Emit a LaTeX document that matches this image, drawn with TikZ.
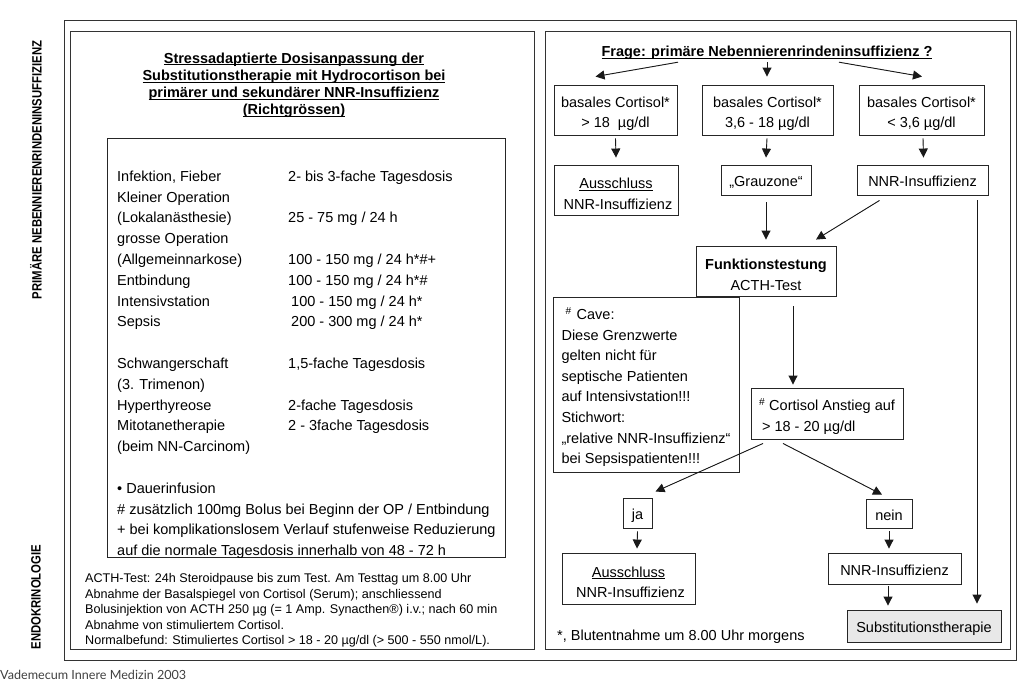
\documentclass[tikz,border=0pt]{standalone}
\usepackage{fontspec}
\setmainfont{Liberation Sans}
\newfontfamily\vadefont{Lato}
\usetikzlibrary{arrows.meta,calc,positioning}
\newcommand{\ulin}[1]{\underline{\smash{#1}\vphantom{A}}}
\newcommand{\hsup}{\textsuperscript{\#}}
\newcommand{\narrow}[1]{\scalebox{0.84}[1]{#1}}
\newcommand{\tup}{\rule{0pt}{18pt}}

\begin{document}
\begin{tikzpicture}[
  x=1pt, y=-1pt,
  >={Triangle[length=9pt,width=9pt]},
  panel/.style={draw=black!80, line width=1pt},
  box/.style={draw=black!85, line width=0.9pt, align=center, inner sep=0pt,
    font=\fontsize{14.5}{20.6}\selectfont},
  single/.style={text height=13.5pt, text depth=0.5pt},
  flow/.style={->, line width=0.9pt, draw=black!90, fill=black!90},
  txt/.style={inner sep=0pt, font=\fontsize{14.5}{20.6}\selectfont},
  note/.style={inner sep=0pt, align=left, font=\fontsize{12.6}{15.6}\selectfont},
  side/.style={inner sep=0pt, rotate=90, font=\bfseries\fontsize{13.5}{15}\selectfont}
]
  \useasboundingbox (0,0) rectangle (1023,686);

  \draw[panel] (64,20) rectangle (1016,660);
  \draw[panel] (70,31) rectangle (534,649);
  \draw[panel] (545,31) rectangle (1010,649);

  \node[side] (primaer) at (36,170) {\narrow{PRIMÄRE NEBENNIERENRINDENINSUFFIZIENZ}};
  \node[side] (endo) at (36,597) {\narrow{ENDOKRINOLOGIE}};
  \node[inner sep=0pt, anchor=west, text=black!75,
    font=\vadefont\fontsize{12.6}{15}\selectfont] (quelle) at (0,675)
    {Vademecum Innere Medizin 2003};

  \begin{scope}
    \node[txt, align=center, font=\bfseries\fontsize{14.5}{17.3}\selectfont] (titel) at (294,85)
      {\ulin{Stressadaptierte Dosisanpassung der}\\
       \ulin{Substitutionstherapie mit Hydrocortison bei}\\
       \ulin{primärer und sekundärer NNR-Insuffizienz}\\
       \ulin{(Richtgrössen)}};
    \node[box, minimum width=398pt, minimum height=419pt] (dosis) at (306,347.5) {};
    \node[txt, anchor=north west, font=\fontsize{14.5}{20.8}\selectfont] (tabelle) at (117,166.6)
      {\begin{tabular}[t]{@{}p{171pt}@{}l@{}}
        Infektion, Fieber & 2- bis 3-fache Tagesdosis\\
        Kleiner Operation & \\
        (Lokalanästhesie) & 25 - 75 mg / 24 h\\
        grosse Operation & \\
        (Allgemeinnarkose) & 100 - 150 mg / 24 h*\#+\\
        Entbindung & 100 - 150 mg / 24 h*\#\\
        Intensivstation & \hspace{3pt}100 - 150 mg / 24 h*\\
        Sepsis & \hspace{3pt}200 - 300 mg / 24 h*\\
        & \\
        Schwangerschaft & 1,5-fache Tagesdosis\\
        (3. Trimenon) & \\
        Hyperthyreose & 2-fache Tagesdosis\\
        Mitotanetherapie & 2 - 3fache Tagesdosis\\
        (beim NN-Carcinom) & \\
        & \\
        \multicolumn{2}{@{}l@{}}{\textbullet{} Dauerinfusion}\\
        \multicolumn{2}{@{}l@{}}{\# zusätzlich 100mg Bolus bei Beginn der OP / Entbindung}\\
        \multicolumn{2}{@{}l@{}}{+ bei komplikationslosem Verlauf stufenweise Reduzierung}\\
        \multicolumn{2}{@{}l@{}}{auf die normale Tagesdosis innerhalb von 48 - 72 h}
      \end{tabular}};
    \node[note, anchor=north west] (acth) at (85,573.2)
      {ACTH-Test: 24h Steroidpause bis zum Test. Am Testtag um 8.00 Uhr\\
       Abnahme der Basalspiegel von Cortisol (Serum); anschliessend\\
       Bolusinjektion von ACTH 250 µg (= 1 Amp. Synacthen®) i.v.; nach 60 min\\
       Abnahme von stimuliertem Cortisol.\\
       Normalbefund: Stimuliertes Cortisol > 18 - 20 µg/dl (> 500 - 550 nmol/L).};
  \end{scope}

  \begin{scope}
    \node[txt, font=\bfseries\fontsize{14.5}{17}\selectfont] (frage) at (767,53)
      {\ulin{Frage: primäre Nebennierenrindeninsuffizienz ?}};

    \node[box, minimum width=123pt, minimum height=50pt] (b1) at (615.5,110)
      {\tup basales Cortisol*\\> 18~~µg/dl};
    \node[box, minimum width=131pt, minimum height=50pt] (b2) at (767.5,110)
      {\tup basales Cortisol*\\3,6 - 18 µg/dl};
    \node[box, minimum width=125pt, minimum height=50pt] (b3) at (921.5,110)
      {\tup basales Cortisol*\\< 3,6 µg/dl};

    \node[box, minimum width=124pt, minimum height=50pt] (aus1) at (616,190)
      {\tup\underline{Ausschluss}\\\hspace{4pt}NNR-Insuffizienz};
    \node[box, single, minimum width=90pt, minimum height=30pt] (grau) at (766,180) {„Grauzone“};
    \node[box, single, minimum width=131pt, minimum height=30pt] (nnr1) at (922.5,180) {NNR-Insuffizienz};

    \node[box, minimum width=140pt, minimum height=50pt] (funk) at (766,271)
      {\tup\textbf{Funktionstestung}\\ACTH-Test};
    \node[box, minimum width=186pt, minimum height=175pt, align=left] (cave) at (646,384.5)
      {\rule{0pt}{17pt}\hspace{4pt}\hsup\hspace{5pt}Cave:\\
       Diese Grenzwerte\\
       gelten nicht für\\
       septische Patienten\\
       auf Intensivstation!!!\\
       Stichwort:\\
       „relative NNR-Insuffizienz“\\
       bei Sepsispatienten!!!};
    \node[box, minimum width=152pt, minimum height=51pt, align=left] (cort) at (827,413.5)
      {\tup\hsup{} Cortisol Anstieg auf\\\hspace{3pt}> 18 - 20 µg/dl};

    \node[box, single, minimum width=29pt, minimum height=30pt] (ja) at (637.5,513) {ja};
    \node[box, single, minimum width=46pt, minimum height=29pt] (nein) at (889,513.5) {nein};
    \node[box, minimum width=133pt, minimum height=51pt] (aus2) at (628.5,578.5)
      {\tup\underline{Ausschluss}\\\hspace{4pt}NNR-Insuffizienz};
    \node[box, single, minimum width=133pt, minimum height=31pt] (nnr2) at (894.5,568.5) {NNR-Insuffizienz};
    \node[box, single, minimum width=154pt, minimum height=32pt, fill=black!9] (subst) at (924,626)
      {Substitutionstherapie};
    \node[txt, anchor=west] (blut) at (557,637) {*, Blutentnahme um 8.00 Uhr morgens};
  \end{scope}

  \draw[flow] ([xshift=-89pt,yshift=-3pt]frage.south) -- ([xshift=-20pt,yshift=8pt]b1.north);
  \draw[flow] ([yshift=-3pt]frage.south) -- ([xshift=-0.5pt,yshift=8pt]b2.north);
  \draw[flow] ([xshift=72pt,yshift=-3pt]frage.south) -- ([xshift=0.5pt,yshift=8pt]b3.north);

  \draw[flow] ([yshift=-3pt]b1.south) -- ([yshift=7pt]aus1.north);
  \draw[flow] ([xshift=-0.5pt,yshift=-3pt]b2.south) -- ([yshift=7pt]grau.north);
  \draw[flow] ([xshift=1.5pt,yshift=-3pt]b3.south) -- ([xshift=1pt,yshift=7pt]nnr1.north);

  \draw[flow] ([yshift=-7pt]grau.south) -- ([yshift=6pt]funk.north);
  \draw[flow] ([xshift=-43pt,yshift=-5pt]nnr1.south) -- ([xshift=50pt,yshift=6pt]funk.north);
  \draw[flow] ([xshift=54.5pt,yshift=-5pt]nnr1.south) -- ([xshift=53pt,yshift=6pt]subst.north);

  \draw[flow] ([xshift=27pt,yshift=-10pt]funk.south) -- ([xshift=-34pt,yshift=3pt]cort.north);
  \draw[flow] ([xshift=-64pt,yshift=-4pt]cort.south) -- ([xshift=18pt,yshift=6pt]ja.north);
  \draw[flow] ([xshift=-44pt,yshift=-4pt]cort.south) -- ([xshift=-7pt,yshift=4pt]nein.north);

  \draw[flow] ([yshift=-3pt]ja.south) -- ([xshift=8.5pt,yshift=4pt]aus2.north);
  \draw[flow] ([yshift=-3pt]nein.south) -- ([xshift=-5.5pt,yshift=4pt]nnr2.north);
  \draw[flow] ([xshift=-6.5pt,yshift=-2pt]nnr2.south) -- ([xshift=-36pt,yshift=4pt]subst.north);
\end{tikzpicture}
\end{document}
